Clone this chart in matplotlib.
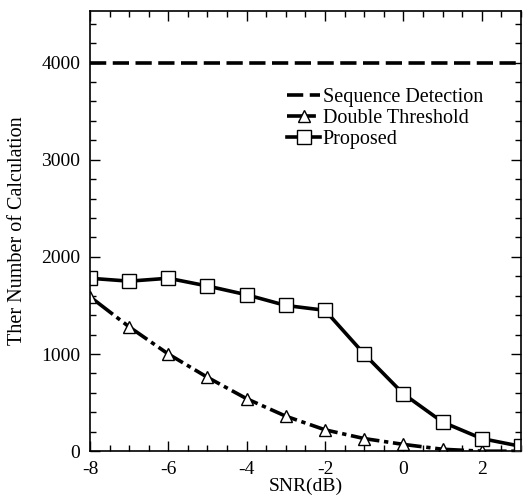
import numpy as np
import matplotlib
matplotlib.use('Agg')
import matplotlib.pyplot as plt
from matplotlib.ticker import MultipleLocator

plt.rcParams['font.family'] = ['Liberation Serif', 'DejaVu Serif']
plt.rcParams['axes.unicode_minus'] = False

snr = [-8, -7, -6, -5, -4, -3, -2, -1, 0, 1, 2, 3]
seq_detection = [4000] * len(snr)
double_threshold = [1590, 1280, 1000, 760, 540, 360, 220, 130, 70, 20, 0, 0]
proposed = [1780, 1750, 1780, 1700, 1610, 1500, 1450, 1000, 590, 300, 130, 50]

fig = plt.figure(figsize=(5.23, 5.03), dpi=100)
ax = fig.add_axes([0.172, 0.103, 0.824, 0.875])

ax.plot(snr, seq_detection, color='black', lw=2.6, dashes=(4.5, 1.8),
        label='Sequence Detection')
ax.plot(snr, double_threshold, color='black', lw=2.6, dashes=(8, 1.3, 1.2, 1.3),
        marker='^', markersize=9, markerfacecolor='white', markeredgewidth=1.0,
        markeredgecolor='black', label='Double Threshold')
ax.plot(snr, proposed, color='black', lw=2.6, marker='s', markersize=10,
        markerfacecolor='white', markeredgewidth=1.0, markeredgecolor='black',
        label='Proposed')

ax.set_xlim(-8, 3)
ax.set_ylim(0, 4530)
ax.xaxis.set_major_locator(MultipleLocator(2))
ax.xaxis.set_minor_locator(MultipleLocator(0.5))
ax.yaxis.set_major_locator(MultipleLocator(1000))
ax.yaxis.set_minor_locator(MultipleLocator(200))
ax.tick_params(which='both', direction='in', top=True, right=True, labelsize=14)
ax.tick_params(which='major', length=7, width=1, pad=7)
ax.tick_params(which='minor', length=4, width=1)
for s in ax.spines.values():
    s.set_linewidth(1.2)

ax.set_xlabel('SNR(dB)', fontsize=14, labelpad=0)
ax.set_ylabel('Ther Number of Calculation', fontsize=14.5, labelpad=10)

ax.legend(loc='upper left', bbox_to_anchor=(0.435, 0.848), frameon=False,
          fontsize=14.5, handlelength=1.6, handletextpad=0.15, labelspacing=0.1,
          borderpad=0)

fig.savefig('out.png', dpi=100)
